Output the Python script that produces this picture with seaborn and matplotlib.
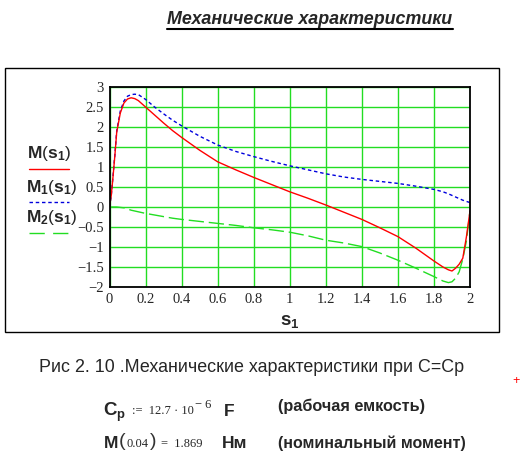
import numpy as np
import pandas as pd
import matplotlib
matplotlib.use('Agg')
import matplotlib.pyplot as plt
import seaborn as sns
from matplotlib.lines import Line2D
from matplotlib.patches import Rectangle

# Values
s1 = [0, 0.01, 0.02, 0.03, 0.04, 0.06, 0.08, 0.1, 0.12, 0.14, 0.16, 0.2, 0.25, 0.3,
      0.35, 0.4, 0.5, 0.6, 0.7, 0.8, 0.9, 1.0, 1.1, 1.2, 1.3, 1.4, 1.5, 1.6, 1.7,
      1.8, 1.85, 1.88, 1.9, 1.92, 1.94, 1.96, 1.98, 2.0]
M = [0, 0.3, 0.78, 1.3, 1.869, 2.35, 2.6, 2.7, 2.73, 2.71, 2.66, 2.5, 2.3, 2.1,
     1.91, 1.74, 1.42, 1.13, 0.93, 0.74, 0.56, 0.38, 0.22, 0.05, -0.13, -0.31,
     -0.52, -0.74, -1.03, -1.35, -1.5, -1.57, -1.6, -1.53, -1.43, -1.28, -0.75, -0.1]
M1 = [0, 0.3, 0.8, 1.32, 1.9, 2.4, 2.65, 2.77, 2.81, 2.82, 2.81, 2.69, 2.5, 2.33,
      2.17, 2.03, 1.77, 1.55, 1.39, 1.26, 1.14, 1.03, 0.93, 0.83, 0.75, 0.69,
      0.64, 0.59, 0.52, 0.44, 0.38, 0.33, 0.29, 0.25, 0.21, 0.17, 0.14, 0.11]
M2 = [0, 0, 0, 0, 0, -0.01, -0.02, -0.05, -0.08, -0.1, -0.12, -0.16, -0.2, -0.24,
      -0.28, -0.31, -0.36, -0.41, -0.46, -0.52, -0.57, -0.63, -0.72, -0.83, -0.9,
      -0.99, -1.15, -1.33, -1.53, -1.74, -1.85, -1.89, -1.87, -1.78, -1.62, -1.3,
      -0.85, -0.1]

x_ticks = [0, 0.2, 0.4, 0.6, 0.8, 1, 1.2, 1.4, 1.6, 1.8, 2]
x_labels = ['0', '0.2', '0.4', '0.6', '0.8', '1', '1.2', '1.4', '1.6', '1.8', '2']
y_ticks = [-2, -1.5, -1, -0.5, 0, 0.5, 1, 1.5, 2, 2.5, 3]
y_labels = ['\u22122', '\u22121.5', '\u22121', '\u22120.5', '0', '0.5', '1', '1.5', '2', '2.5', '3']

W, H = 521, 470
GRID = '#22dd22'


def px(x, y):
    return x / W, 1 - y / H


def after(fig, prev, y, text, gap=2, **kw):
    # place a text right after an earlier one, Mathcad-expression style
    fig.canvas.draw()
    x = prev.get_window_extent().x1 + gap
    return fig.text(x / W, 1 - y / H, text, ha='left', va='center', **kw)


def main():
    sns.set_style('white')
    plt.rcParams['font.family'] = ['Liberation Sans', 'DejaVu Sans']
    plt.rcParams['mathtext.fontset'] = 'custom'
    plt.rcParams['mathtext.rm'] = 'Liberation Sans'
    plt.rcParams['mathtext.bf'] = 'Liberation Sans:bold'
    plt.rcParams['mathtext.it'] = 'Liberation Sans:italic'

    df = pd.DataFrame({'s1': s1, 'M': M, 'M1': M1, 'M2': M2})

    fig = plt.figure(figsize=(W / 100, H / 100), dpi=100)
    fig.patch.set_facecolor('white')

    # outer region frame
    fig.add_artist(Rectangle(px(5, 332), 494 / W, 264 / H, transform=fig.transFigure,
                             fill=False, edgecolor='black', lw=1.0))

    ax = fig.add_axes([109.5 / W, 1 - 287 / H, 360.5 / W, 200 / H])

    sns.lineplot(data=df, x='s1', y='M2', ax=ax, color='#22dd22', lw=1.0, sort=False)
    ax.lines[-1].set_dashes((11, 3.5))
    sns.lineplot(data=df, x='s1', y='M1', ax=ax, color='#0000dd', lw=1.0, sort=False)
    ax.lines[-1].set_dashes((2.5, 2))
    sns.lineplot(data=df, x='s1', y='M', ax=ax, color='red', lw=1.0, sort=False)

    ax.set_xlim(0, 2)
    ax.set_ylim(-2, 3)
    ax.set_xticks(x_ticks)
    ax.set_xticklabels(x_labels)
    ax.set_yticks(y_ticks)
    ax.set_yticklabels(y_labels)
    ax.grid(True, color=GRID, lw=1.0)
    ax.set_axisbelow(True)
    ax.tick_params(length=0, pad=4, labelsize=10.5)
    for lab in ax.get_xticklabels() + ax.get_yticklabels():
        lab.set_family('Liberation Serif')
    for sp in ax.spines.values():
        sp.set_visible(True)
        sp.set_color('black')
        sp.set_linewidth(1.3)
    ax.set_xlabel('')
    ax.set_ylabel('')

    # x axis label
    fig.text(*px(290, 321), r'$\mathbf{s}_{\mathbf{1}}$', fontsize=13.5, ha='center', va='center')

    # left legend, Mathcad style
    fig.text(*px(49, 153), r'$\mathbf{M}(\mathbf{s}_{\mathbf{1}})$', fontsize=12.5, ha='center', va='center')
    fig.add_artist(Line2D([29 / W, 69 / W], [1 - 169 / H] * 2, color='red', lw=1.0))
    fig.text(*px(52, 187), r'$\mathbf{M}_{\mathbf{1}}(\mathbf{s}_{\mathbf{1}})$', fontsize=12.5, ha='center', va='center')
    fig.add_artist(Line2D([29 / W, 69 / W], [1 - 202 / H] * 2, color='#0000dd', lw=1.0, dashes=(2.5, 2)))
    fig.text(*px(52, 217), r'$\mathbf{M}_{\mathbf{2}}(\mathbf{s}_{\mathbf{1}})$', fontsize=12.5, ha='center', va='center')
    fig.add_artist(Line2D([29 / W, 69 / W], [1 - 233 / H] * 2, color='#22dd22', lw=1.0, dashes=(11, 6)))

    # title with underline
    title = fig.text(*px(310, 20), 'Механические характеристики', fontsize=12.9,
                     fontweight='bold', fontstyle='italic', ha='center', va='center')
    fig.canvas.draw()
    bb = title.get_window_extent()
    fig.add_artist(Line2D([bb.x0 / W, bb.x1 / W], [(bb.y0 - 0.5) / H] * 2,
                          color='black', lw=1.5))

    # caption
    fig.text(*px(252, 368), 'Рис 2. 10 .Механические характеристики при С=Ср',
             fontsize=12.9, ha='center', va='center')
    fig.text(*px(516, 381), '+', fontsize=9, color='red', ha='center', va='center')

    # parameter lines
    serif = dict(fontsize=9, family='Liberation Serif')
    fig.text(*px(103, 412), r'$\mathbf{C}_{\mathbf{p}}$', fontsize=13.5, ha='left', va='center')
    t = fig.text(*px(132, 411), ':=  12.7 \u00b7 10', ha='left', va='center', **serif)
    after(fig, t, 405, '\u2212 6', gap=1, **serif)
    fig.text(*px(224, 412), 'F', fontsize=12.5, fontweight='bold', ha='left', va='center')
    fig.text(*px(278, 406), '(рабочая емкость)', fontsize=11.7, fontweight='bold',
             ha='left', va='center')

    t = fig.text(*px(103, 443), r'$\mathbf{M}$', fontsize=12.5, ha='left', va='center')
    t = after(fig, t, 442, '(', gap=1, fontsize=14, color='#333333')
    t = after(fig, t, 444, '0.04', gap=1, **serif)
    t = after(fig, t, 442, ')', gap=1, fontsize=14, color='#333333')
    after(fig, t, 444, '=  1.869', gap=5, **serif)
    fig.text(*px(222, 443), 'Нм', fontsize=12.5, fontweight='bold', ha='left', va='center')
    fig.text(*px(278, 443), '(номинальный момент)', fontsize=11.5, fontweight='bold',
             ha='left', va='center')

    fig.savefig('out.png', dpi=100, facecolor='white')


if __name__ == '__main__':
    main()
